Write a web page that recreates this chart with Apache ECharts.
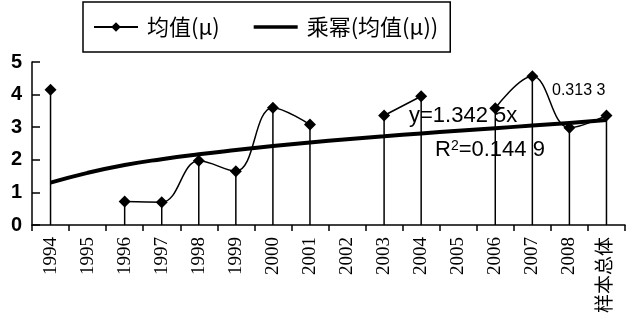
<!DOCTYPE html>
<html>
<head>
<meta charset="utf-8">
<script src="https://cdn.jsdelivr.net/npm/echarts@6/dist/echarts.min.js"></script>
<style>
html,body{margin:0;padding:0;background:#fff;}
#chart{width:631px;height:322px;}
</style>
</head>
<body>
<div id="chart"></div>
<script>
var categories = ['1994','1995','1996','1997','1998','1999','2000','2001','2002','2003','2004','2005','2006','2007','2008','样本总体'];
var meanValues = [4.15, null, 0.72, 0.70, 1.97, 1.65, 3.60, 3.08, null, 3.36, 3.95, null, 3.58, 4.56, 2.98, 3.36];
var trendValues = [1.30, 1.60, 1.84, 2.02, 2.17, 2.30, 2.42, 2.53, 2.63, 2.72, 2.81, 2.89, 2.97, 3.05, 3.13, 3.22];
var yTicks = [0, 1, 2, 3, 4, 5];
var seriesNames = ['均值(μ)', '乘幂(均值(μ))'];
var eqMain = 'y=1.342 5x';
var eqExp = '0.313 3';
var eqR2 = '0.144 9';

var chart = echarts.init(document.getElementById('chart'), null, {renderer: 'canvas'});
chart.setOption({
  animation: false,
  backgroundColor: '#fff',
  legend: {
    data: [
      {name: seriesNames[0]},
      {name: seriesNames[1], icon: 'path://M0,0 H47 V4 H0 Z', itemStyle: {color: '#000'}}
    ],
    left: 83,
    top: 2,
    borderColor: '#000',
    borderWidth: 1.5,
    borderRadius: 0,
    padding: [14, 12, 14, 10],
    itemWidth: 44,
    itemHeight: 12,
    itemGap: 34,
    textStyle: {fontSize: 22, color: '#000', fontFamily: '"Noto Sans CJK SC", sans-serif', padding: [0, 0, 0, 4]}
  },
  grid: {left: 32, right: 6, top: 62, bottom: 97, containLabel: false},
  xAxis: {
    type: 'category',
    data: categories,
    boundaryGap: true,
    axisLine: {lineStyle: {color: '#000', width: 1.5}},
    axisTick: {show: true, interval: 0, length: 6, lineStyle: {color: '#000', width: 1.5}},
    axisLabel: {
      interval: 0, rotate: 90, margin: 12, color: '#000',
      fontSize: 19, fontFamily: '"Liberation Serif", "Noto Sans CJK SC", serif'
    }
  },
  yAxis: {
    type: 'value',
    min: yTicks[0],
    max: yTicks[yTicks.length - 1],
    interval: 1,
    axisLine: {show: true, lineStyle: {color: '#000', width: 1.5}},
    axisTick: {show: true, inside: true, length: 8, lineStyle: {color: '#000', width: 1.5}},
    splitLine: {show: false},
    axisLabel: {
      color: '#000', fontSize: 20, fontWeight: 'bold', margin: 10,
      fontFamily: '"Liberation Sans", sans-serif'
    }
  },
  series: [
    {
      name: 'drop',
      type: 'bar',
      data: meanValues,
      barWidth: 1.5,
      itemStyle: {color: '#000'},
      silent: true,
      z: 1
    },
    {
      name: seriesNames[1],
      type: 'line',
      data: trendValues,
      smooth: true,
      symbol: 'none',
      lineStyle: {color: '#000', width: 4},
      itemStyle: {color: '#000'},
      z: 2
    },
    {
      name: seriesNames[0],
      type: 'line',
      data: meanValues,
      smooth: 0.4,
      connectNulls: false,
      symbol: 'diamond',
      symbolSize: 12,
      lineStyle: {color: '#000', width: 1.5},
      itemStyle: {color: '#000'},
      z: 3
    }
  ],
  graphic: [
    {
      type: 'text', left: 409, top: 105, z: 10,
      style: {text: eqMain, fontSize: 22, fill: '#000', fontFamily: '"Liberation Sans", sans-serif'}
    },
    {
      type: 'text', left: 552, top: 83, z: 10,
      style: {text: eqExp, fontSize: 16, fill: '#000', fontFamily: '"Liberation Sans", sans-serif'}
    },
    {
      type: 'text', left: 435, top: 139, z: 10,
      style: {
        text: '{n|R}{s|2}{n|=' + eqR2 + '}',
        fill: '#000',
        rich: {
          n: {fontSize: 22, fontFamily: '"Liberation Sans", sans-serif', fill: '#000', verticalAlign: 'bottom'},
          s: {fontSize: 14, fontFamily: '"Liberation Sans", sans-serif', fill: '#000', verticalAlign: 'top'}
        }
      }
    }
  ]
});
</script>
</body>
</html>
